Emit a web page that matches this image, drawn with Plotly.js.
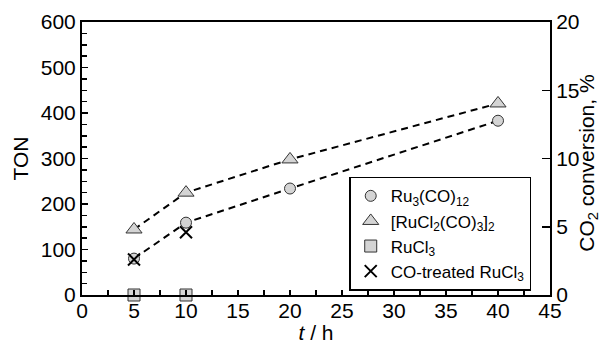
<!DOCTYPE html>
<html>
<head>
<meta charset="utf-8">
<script src="https://cdn.plot.ly/plotly-3.0.1.min.js"></script>
<style>body{margin:0;padding:0;background:#fff;} #chart{width:602px;height:344px;}</style>
</head>
<body>
<div id="chart"></div>
<script>
// Data
const timeRu3 = [5, 10, 20, 40];
const tonRu3 = [80, 159, 234, 383];
const timeRuCl2 = [5, 10, 20, 40];
const tonRuCl2 = [144, 225, 298, 421];
const timeRuCl3 = [5, 10];
const tonRuCl3 = [0, 0];
const timeCOtreated = [5, 10];
const tonCOtreated = [78, 138];
const seriesNames = ["Ru<sub>3</sub>(CO)<sub>12</sub>", "[RuCl<sub>2</sub>(CO)<sub>3</sub>]<sub>2</sub>", "RuCl<sub>3</sub>", "CO-treated RuCl<sub>3</sub>"];

const FONT = "Liberation Sans, Arial, sans-serif";
const fill = "#d4d4d4";
const edge = "#333333";

const traces = [
  {x: timeRu3, y: tonRu3, mode: "lines", line: {color: "#000", width: 2, dash: "7px,5px"}, showlegend: false, hoverinfo: "skip"},
  {x: timeRuCl2, y: tonRuCl2, mode: "lines", line: {color: "#000", width: 2, dash: "7px,5px"}, showlegend: false, hoverinfo: "skip"},
  {x: timeRu3, y: tonRu3, mode: "markers", name: seriesNames[0],
   marker: {symbol: "circle", size: 11, color: fill, line: {color: edge, width: 1}}},
  {x: timeRuCl2, y: tonRuCl2, mode: "markers", name: seriesNames[1],
   marker: {symbol: "triangle-up", size: 14, color: fill, line: {color: edge, width: 1}}},
  {x: timeRuCl3, y: tonRuCl3, mode: "markers", name: seriesNames[2], cliponaxis: false,
   marker: {symbol: "square", size: 12, color: fill, line: {color: edge, width: 1}}},
  {x: timeCOtreated, y: tonCOtreated, mode: "markers", name: seriesNames[3],
   marker: {symbol: "x-thin", size: 12, color: "#000", line: {color: "#000", width: 2}}},
  {x: [0], y: [0], yaxis: "y2", mode: "markers", marker: {opacity: 0}, showlegend: false, hoverinfo: "skip"}
];

const layout = {
  width: 602, height: 344,
  margin: {l: 82, r: 52, t: 22, b: 49},
  paper_bgcolor: "#fff", plot_bgcolor: "#fff",
  font: {family: FONT, size: 21, color: "#000"},
  showlegend: true,
  legend: {x: 0.571, y: 0.433, xanchor: "left", yanchor: "top",
           bgcolor: "#fff", bordercolor: "#000", borderwidth: 1.5,
           font: {family: FONT, size: 17, color: "#000"}, tracegroupgap: 0, itemwidth: 30},
  xaxis: {range: [0, 45], dtick: 5, tick0: 0, showgrid: false, zeroline: false,
          showline: true, linecolor: "#000", linewidth: 2, mirror: true,
          ticks: "inside", ticklen: 5, tickwidth: 1.5, tickcolor: "#000",
          minor: {dtick: 2.5, ticks: "inside", ticklen: 5, tickwidth: 1.5, tickcolor: "#000", showgrid: false},
          tickfont: {size: 21}, ticklabelstandoff: -4,
          title: {text: "<i>t</i> / h", font: {size: 21}, standoff: 5}},
  yaxis: {range: [0, 600], dtick: 100, showgrid: false, zeroline: false,
          showline: true, linecolor: "#000", linewidth: 2, mirror: true,
          ticks: "inside", ticklen: 6, tickwidth: 1.5, tickcolor: "#000",
          minor: {dtick: 25, ticks: "inside", ticklen: 5, tickwidth: 1.5, tickcolor: "#000", showgrid: false},
          tickfont: {size: 21},
          title: {text: "TON", font: {size: 21}, standoff: 6}},
  yaxis2: {range: [0, 20], dtick: 5, overlaying: "y", side: "right", showgrid: false, zeroline: false,
           showline: true, linecolor: "#000", linewidth: 2,
           ticks: "inside", ticklen: 8, tickwidth: 1.5, tickcolor: "#000",
           tickfont: {size: 21}},
  annotations: [{text: "CO<sub>2</sub> conversion, %", xref: "paper", yref: "paper",
                 x: 1.081, y: 0.484, xanchor: "center", yanchor: "middle", textangle: -90,
                 showarrow: false, font: {family: FONT, size: 21, color: "#000"}}]
};

Plotly.newPlot("chart", traces, layout, {displayModeBar: false, staticPlot: true});
</script>
</body>
</html>
